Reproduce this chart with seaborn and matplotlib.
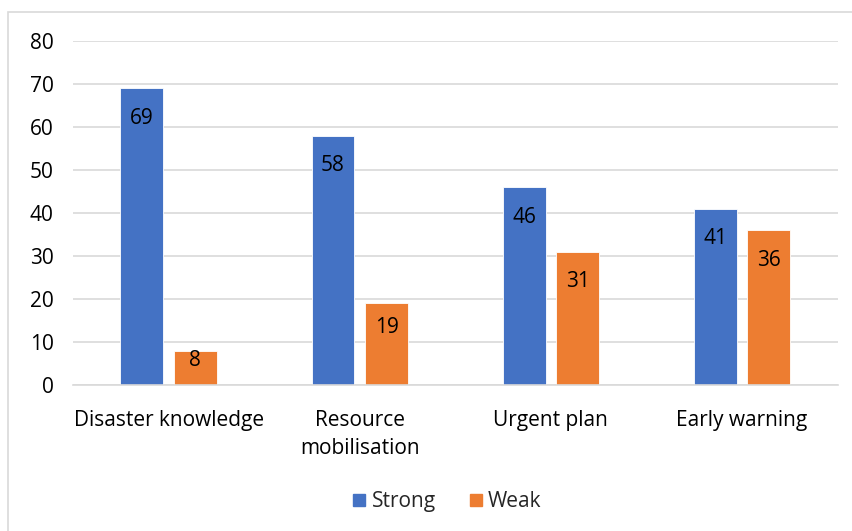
import matplotlib
matplotlib.use("Agg")
import matplotlib.pyplot as plt
import seaborn as sns
import pandas as pd
from matplotlib.patches import Rectangle
from matplotlib.lines import Line2D

categories = ["Disaster knowledge", "Resource\nmobilisation", "Urgent plan", "Early warning"]
strong = [69, 58, 46, 41]
weak = [8, 19, 31, 36]
series = ["Strong", "Weak"]
colors = ["#4472C4", "#ED7D31"]

df = pd.DataFrame({
    "category": categories * 2,
    "value": strong + weak,
    "group": [series[0]] * len(categories) + [series[1]] * len(categories),
})

sns.set_style("white")
plt.rcParams["font.family"] = ["Open Sans", "DejaVu Sans"]

fig = plt.figure(figsize=(8.53, 5.31), dpi=100)
ax = fig.add_axes([0.0856, 0.275, 0.8964, 0.648])

sns.barplot(data=df, x="category", y="value", hue="group", palette=colors,
            width=0.56, gap=0.2, order=categories, hue_order=series,
            legend=False, ax=ax, saturation=1, edgecolor="white", linewidth=0.6)

# inside-end labels, pushed up for short bars like Excel does
for c in ax.containers:
    for p, v in zip(c.patches, c.datavalues):
        y = max(v - 7, v * 0.7)
        ax.text(p.get_x() + p.get_width() / 2, y, f"{v:.0f}", ha="center",
                va="center", fontsize=15, color="black")

ax.set_ylim(0, 80)
ax.set_xlim(-0.5, 3.5)
ax.set_yticks(range(0, 81, 10))
ax.yaxis.grid(True, color="#d9d9d9", linewidth=1.2)
ax.set_axisbelow(True)
for s in ["top", "right", "left"]:
    ax.spines[s].set_visible(False)
ax.spines["bottom"].set_color("#d9d9d9")
ax.spines["bottom"].set_linewidth(1.2)
ax.tick_params(axis="both", length=0, labelsize=15, colors="black")
ax.tick_params(axis="x", pad=18)
ax.tick_params(axis="y", pad=14)
for t in ax.get_xticklabels():
    t.set_linespacing(1.45)
ax.set_xlabel("")
ax.set_ylabel("")

handles = [Line2D([0], [0], marker="s", linestyle="", markersize=9,
                  markerfacecolor=col, markeredgecolor=col) for col in colors]
fig.legend(handles, series, loc="lower center", bbox_to_anchor=(0.522, 0.0),
           ncol=2, frameon=False, fontsize=15, handletextpad=0.1,
           columnspacing=1.4, handlelength=1.0)

fig.patches.append(Rectangle((0.0094, -0.05), 1.1, 1.027, transform=fig.transFigure,
                             fill=False, edgecolor="#d9d9d9", linewidth=1.2))

fig.savefig("out.png", dpi=100)
